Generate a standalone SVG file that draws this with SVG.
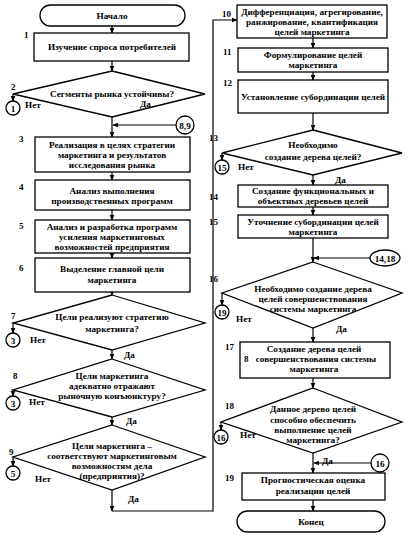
<svg xmlns="http://www.w3.org/2000/svg" width="410" height="537" viewBox="0 0 410 537" font-family="'Liberation Serif', 'Times New Roman', serif">
<style>
.s{fill:#fff;stroke:#000;stroke-width:1.3}
.c{fill:none;stroke:#000;stroke-width:1.2}
text{font-family:'Liberation Serif','Times New Roman',serif;font-weight:bold;font-size:9.2px;fill:#000}
.m{text-anchor:middle}
.n{font-size:9px}
</style>
<defs>
<marker id="a" viewBox="0 0 8 8" refX="7" refY="4" markerWidth="6" markerHeight="6" orient="auto" markerUnits="userSpaceOnUse">
<path d="M0,0.8 L8,4 L0,7.2 Z" fill="#000"/>
</marker>
</defs>
<rect width="410" height="537" fill="#fff"/>
<g id="connectors" class="c" marker-end="url(#a)">
<line x1="112" y1="26" x2="112" y2="33"/>
<line x1="112" y1="61" x2="112" y2="71"/>
<line x1="13" y1="94" x2="13" y2="101"/>
<line x1="112" y1="117" x2="112" y2="137"/>
<line x1="176" y1="125" x2="113" y2="125"/>
<line x1="112" y1="172" x2="112" y2="180"/>
<line x1="112" y1="210" x2="112" y2="220"/>
<line x1="112" y1="253" x2="112" y2="258"/>
<line x1="112" y1="292" x2="112" y2="295"/>
<line x1="13" y1="323" x2="13" y2="333"/>
<line x1="112" y1="350" x2="112" y2="359"/>
<line x1="13" y1="390" x2="13" y2="396"/>
<line x1="112" y1="417" x2="112" y2="425"/>
<line x1="13" y1="457" x2="13" y2="466"/>
<line x1="112" y1="490" x2="112" y2="511"/>
<polyline points="112,511 213,511 213,20 237,20"/>
<line x1="313" y1="38" x2="313" y2="48"/>
<line x1="313" y1="72" x2="313" y2="80"/>
<line x1="313" y1="113" x2="313" y2="130"/>
<line x1="222" y1="153" x2="222" y2="160"/>
<line x1="313" y1="175" x2="313" y2="185"/>
<line x1="313" y1="207" x2="313" y2="215"/>
<line x1="313" y1="238" x2="313" y2="262"/>
<line x1="370" y1="258" x2="314" y2="258"/>
<line x1="222" y1="293" x2="222" y2="305"/>
<line x1="313" y1="328" x2="313" y2="342"/>
<line x1="313" y1="378" x2="313" y2="388"/>
<line x1="221" y1="422" x2="221" y2="430"/>
<line x1="313" y1="453" x2="313" y2="473"/>
<line x1="371" y1="463" x2="314" y2="463"/>
<line x1="313" y1="500" x2="313" y2="511"/>
</g>
<g id="start">
<rect class="s" x="40" y="5" width="145" height="21" rx="10.5"/>
<text class="m" x="112" y="19">Начало</text>
</g>
<g id="n1">
<rect class="s" x="34" y="33" width="155" height="28"/>
<text class="n" x="24" y="38">1</text>
<text class="m" x="112" y="50">Изучение спроса потребителей</text>
</g>
<g id="n2">
<polygon class="s" points="112,71 205,94 112,117 13,94"/>
<text class="n" x="11" y="90">2</text>
<text class="m" x="112" y="97">Сегменты рынка устойчивы?</text>
<text x="25" y="108">Нет</text>
<text x="140" y="107">Да</text>
</g>
<g id="c1"><circle class="s" cx="13" cy="108" r="7"/><text class="m" x="13" y="111.5">1</text></g>
<g id="c89"><circle class="s" cx="185" cy="125" r="9"/><text class="m" x="185" y="128.5">8,9</text></g>
<g id="n3">
<rect class="s" x="35" y="137" width="155" height="35"/>
<text class="n" x="19" y="142">3</text>
<text class="m" x="112" y="148">Реализация в целях стратегии</text>
<text class="m" x="112" y="158">маркетинга и результатов</text>
<text class="m" x="112" y="168">исследования рынка</text>
</g>
<g id="n4">
<rect class="s" x="35" y="180" width="155" height="30"/>
<text class="n" x="19" y="190">4</text>
<text class="m" x="112" y="194">Анализ выполнения</text>
<text class="m" x="112" y="204">производственных программ</text>
</g>
<g id="n5">
<rect class="s" x="35" y="220" width="155" height="33"/>
<text class="n" x="19" y="229">5</text>
<text class="m" x="112" y="230">Анализ и разработка программ</text>
<text class="m" x="112" y="240">усиления маркетинговых</text>
<text class="m" x="112" y="250">возможностей предприятия</text>
</g>
<g id="n6">
<rect class="s" x="35" y="258" width="155" height="34"/>
<text class="n" x="19" y="271">6</text>
<text class="m" x="112" y="272">Выделение главной цели</text>
<text class="m" x="112" y="283">маркетинга</text>
</g>
<g id="n7">
<polygon class="s" points="112,295 205,323 112,350 13,323"/>
<text class="n" x="11" y="319">7</text>
<text class="m" x="112" y="320">Цели реализуют стратегию</text>
<text class="m" x="112" y="332">маркетинга?</text>
<text x="30" y="343">Нет</text>
<text x="124" y="358">Да</text>
</g>
<g id="c3a"><circle class="s" cx="13" cy="340" r="7"/><text class="m" x="13" y="343.5">3</text></g>
<g id="n8">
<polygon class="s" points="112,359 205,390 112,417 13,390"/>
<text class="n" x="13" y="379">8</text>
<text class="m" x="112" y="379">Цели маркетинга</text>
<text class="m" x="112" y="389">адекватно отражают</text>
<text class="m" x="112" y="399">рыночную конъюнктуру?</text>
<text x="29" y="405">Нет</text>
<text x="126" y="424">Да</text>
</g>
<g id="c3b"><circle class="s" cx="13" cy="403" r="7"/><text class="m" x="13" y="406.5">3</text></g>
<g id="n9">
<polygon class="s" points="112,425 205,457 112,490 13,457"/>
<text class="n" x="9" y="455">9</text>
<text class="m" x="112" y="449">Цели маркетинга –</text>
<text class="m" x="112" y="459">соответствуют маркетинговым</text>
<text class="m" x="112" y="469">возможностям дела</text>
<text class="m" x="112" y="479">(предприятия)?</text>
<text x="35" y="482">Нет</text>
<text x="128" y="502">Да</text>
</g>
<g id="c5"><circle class="s" cx="13" cy="473" r="7"/><text class="m" x="13" y="476.5">5</text></g>
<g id="n10">
<rect class="s" x="237" y="5" width="150" height="33"/>
<text class="n" x="222" y="17">10</text>
<text class="m" x="312" y="15">Дифференциация, агрегирование,</text>
<text class="m" x="312" y="25">ранжирование, квантификация</text>
<text class="m" x="312" y="35">целей маркетинга</text>
</g>
<g id="n11">
<rect class="s" x="238" y="48" width="150" height="24"/>
<text class="n" x="223" y="55">11</text>
<text class="m" x="313" y="58">Формулирование целей</text>
<text class="m" x="313" y="68">маркетинга</text>
</g>
<g id="n12">
<rect class="s" x="238" y="80" width="150" height="33"/>
<text class="n" x="223" y="86">12</text>
<text class="m" x="313" y="100">Установление субординации целей</text>
</g>
<g id="n13">
<polygon class="s" points="313,130 402,153 313,175 222,153"/>
<text class="n" x="209" y="141">13</text>
<text class="m" x="313" y="148">Необходимо</text>
<text class="m" x="313" y="160">создание дерева целей?</text>
<text x="238" y="170">Нет</text>
<text x="335" y="183">Да</text>
</g>
<g id="c15"><circle class="s" cx="222" cy="167" r="7"/><text class="m" x="222" y="170.5">15</text></g>
<g id="n14">
<rect class="s" x="238" y="185" width="150" height="22"/>
<text class="n" x="209" y="200">14</text>
<text class="m" x="313" y="194">Создание функциональных и</text>
<text class="m" x="313" y="204">объектных деревьев целей</text>
</g>
<g id="n15">
<rect class="s" x="238" y="215" width="150" height="23"/>
<text class="n" x="209" y="225">15</text>
<text class="m" x="313" y="225">Уточнение субординации целей</text>
<text class="m" x="313" y="235">маркетинга</text>
</g>
<g id="c1418"><ellipse class="s" cx="385" cy="258" rx="15" ry="8"/><text class="m" x="385" y="261.5">14,18</text></g>
<g id="n16">
<polygon class="s" points="313,262 402,293 313,328 222,293"/>
<text class="n" x="209" y="282">16</text>
<text class="m" x="313" y="292">Необходимо создание дерева</text>
<text class="m" x="313" y="302">целей совершенствования</text>
<text class="m" x="313" y="312">системы маркетинга</text>
<text x="236" y="322">Нет</text>
<text x="336" y="332">Да</text>
</g>
<g id="c19"><circle class="s" cx="222" cy="312" r="7"/><text class="m" x="222" y="315.5">19</text></g>
<g id="n17">
<rect class="s" x="240" y="342" width="150" height="36"/>
<text class="n" x="225" y="350">17</text>
<text class="m" x="314" y="352">Создание дерева целей</text>
<text class="n" x="244" y="362">8</text>
<text class="m" x="316" y="362">совершенствования системы</text>
<text class="m" x="314" y="372">маркетинга</text>
</g>
<g id="n18">
<polygon class="s" points="313,388 402,422 313,453 221,422"/>
<text class="n" x="225" y="409">18</text>
<text class="m" x="313" y="412">Данное дерево целей</text>
<text class="m" x="313" y="423">способно обеспечить</text>
<text class="m" x="313" y="433">выполнение целей</text>
<text class="m" x="313" y="443">маркетинга?</text>
<text x="240" y="438">Нет</text>
<text x="322" y="464">Да</text>
</g>
<g id="c16a"><circle class="s" cx="221" cy="437" r="7"/><text class="m" x="221" y="440.5">16</text></g>
<g id="c16b"><circle class="s" cx="380" cy="463" r="9"/><text class="m" x="380" y="466.5">16</text></g>
<g id="n19">
<rect class="s" x="242" y="473" width="143" height="27"/>
<text class="n" x="225" y="481">19</text>
<text class="m" x="313" y="483">Прогностическая оценка</text>
<text class="m" x="313" y="494">реализации целей</text>
</g>
<g id="end">
<rect class="s" x="237" y="511" width="148" height="21" rx="10.5"/>
<text class="m" x="311" y="525">Конец</text>
</g>
</svg>
